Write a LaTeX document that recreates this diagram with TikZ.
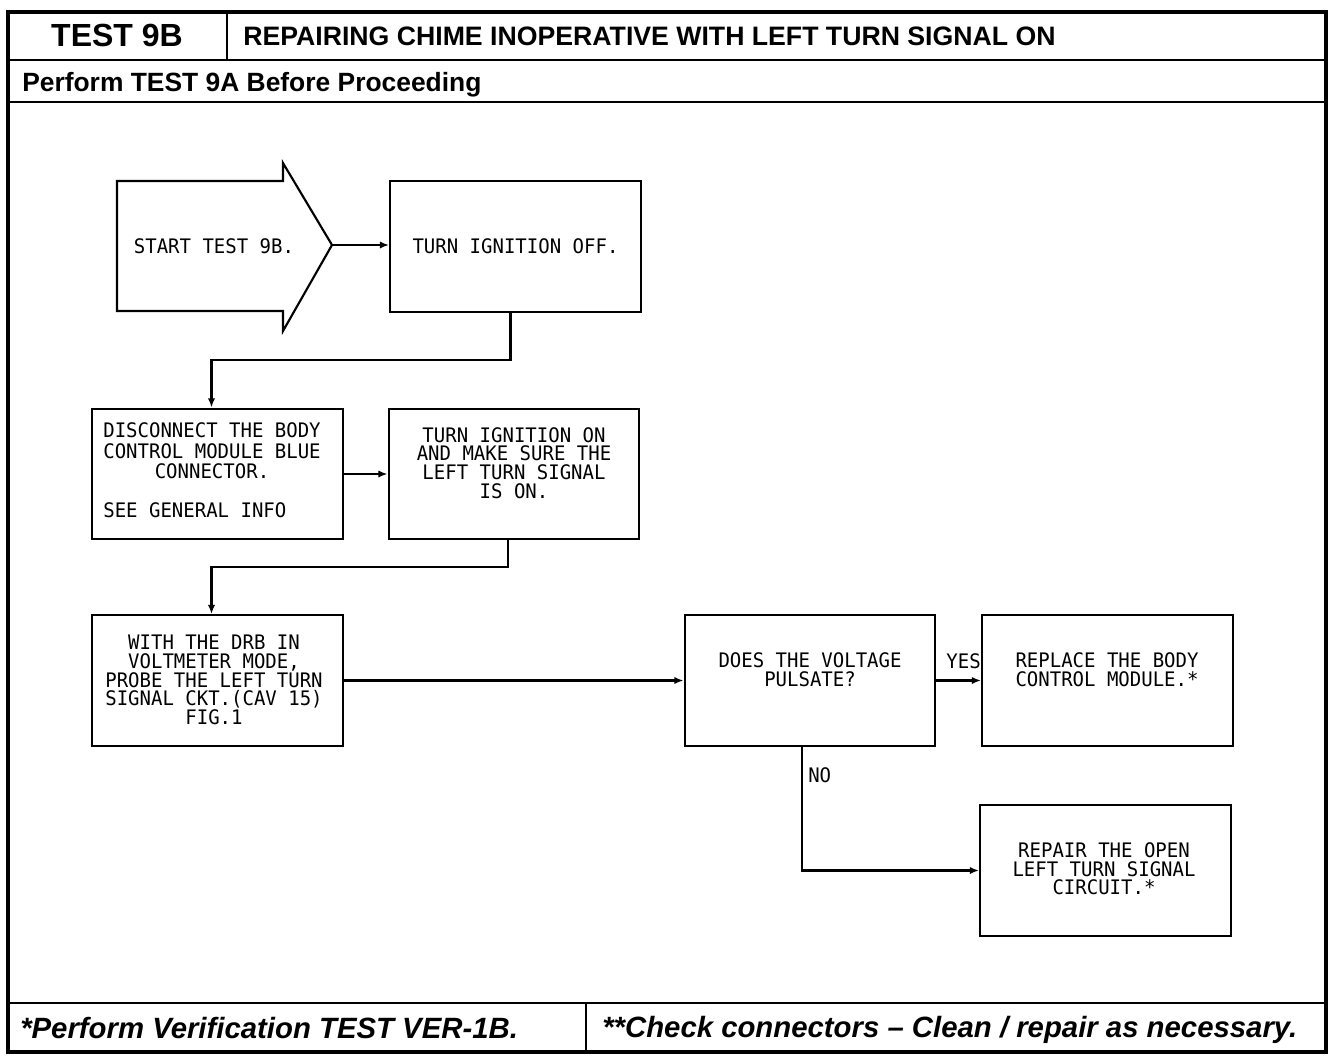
\documentclass[tikz,border=0pt]{standalone}
\usepackage{fontspec}
\setmainfont{Liberation Sans}
\newfontfamily\plotfont[FakeStretch=0.95]{DejaVu Sans Mono}
\usetikzlibrary{arrows.meta,calc}
\tikzset{
  frame/.style={line width=2pt},
  box/.style={draw, line width=1.6pt, minimum width=188pt, minimum height=98pt, inner sep=0pt},
  btext/.style={font=\plotfont\fontsize{15}{14}\selectfont, align=center, inner sep=0pt},
  conn/.style={line width=1.6pt, -{Latex[length=7pt,width=5.5pt]}},
  lbl/.style={font=\plotfont\fontsize{15}{14}\selectfont, inner sep=0pt},
}
\begin{document}
\begin{tikzpicture}[x=0.75pt,y=-0.75pt]
\useasboundingbox (0,0) rectangle (1344,1060);
% frame
\draw[frame, line width=2.4pt] (8,12) rectangle (1326,1052);
\draw[frame] (8,60) -- (1326,60);
\draw[frame] (227,12) -- (227,60);
\draw[frame] (8,102) -- (1326,102);
\draw[frame] (8,1003) -- (1326,1003);
\draw[frame] (586,1003) -- (586,1052);
\node[font=\bfseries\fontsize{24}{26}\selectfont, inner sep=0pt, anchor=base] (hdrA) at (117,46) {TEST 9B};
\node[font=\bfseries\fontsize{20}{22}\selectfont, inner sep=0pt, anchor=base west] (hdrB) at (243,45) {REPAIRING CHIME INOPERATIVE WITH LEFT TURN SIGNAL ON};
\node[font=\bfseries\fontsize{19.8}{22}\selectfont, inner sep=0pt, anchor=base west] (hdrC) at (22,91) {Perform TEST 9A Before Proceeding};
\node[font=\bfseries\itshape\fontsize{22}{24}\selectfont, inner sep=0pt, anchor=base west] (ftA) at (20,1038) {*Perform Verification TEST VER-1B.};
\node[font=\bfseries\itshape\fontsize{22}{24}\selectfont, inner sep=0pt, anchor=base west] (ftB) at (602,1037) {**Check connectors -- Clean / repair as necessary.};
% start arrow
\draw[line width=1.6pt] (117,181) -- (283,181) -- (283,163) -- (332,245) -- (283,331) -- (283,311) -- (117,311) -- cycle;
\coordinate (starttip) at (332,245);
\node[btext] (startt) at (214,246) {START TEST 9B.};
% boxes
\node[box] (b1) at (515.5,246.5) {};
\node[btext] (b1t) at (515.5,246) {TURN IGNITION OFF.};
\node[box] (b2) at (217.5,474) {};
\node[btext] (b2t) at (212,473) {\begin{tabular}{@{}l@{}}DISCONNECT THE BODY\\CONTROL MODULE BLUE\\\multicolumn{1}{@{}c@{}}{CONNECTOR.}\\[14pt]SEE GENERAL INFO\end{tabular}};
\node[box] (b3) at (514,474) {};
\node[btext] (b3t) at (514,463) {TURN IGNITION ON\\AND MAKE SURE THE\\LEFT TURN SIGNAL\\IS ON.};
\node[box] (b4) at (217.5,680.5) {};
\node[btext] (b4t) at (214,680) {WITH THE DRB IN\\VOLTMETER MODE,\\PROBE THE LEFT TURN\\SIGNAL CKT.(CAV 15)\\FIG.1};
\node[box] (b5) at (810,680.5) {};
\node[btext] (b5t) at (810,670) {DOES THE VOLTAGE\\PULSATE?};
\node[box] (b6) at (1107.5,680.5) {};
\node[btext] (b6t) at (1107,670) {REPLACE THE BODY\\CONTROL MODULE.*};
\node[box] (b7) at (1105.5,870.5) {};
\node[btext] (b7t) at (1104,869) {REPAIR THE OPEN\\LEFT TURN SIGNAL\\CIRCUIT.*};
% connectors
\draw[conn] (starttip) -- (b1.west |- starttip);
\draw[conn] ($(b1.south)+(-5,0)$) -- ++(0,47) -| ($(b2.north)+(-6,0)$);
\draw[conn] (b2.east) -- (b3.west);
\draw[conn] ($(b3.south)+(-6,0)$) -- ++(0,27) -| ($(b4.north)+(-6,0)$);
\draw[conn] (b4.east) -- (b5.west);
\draw[conn] (b5.east) -- (b6.west);
\node[lbl, anchor=east] (yes) at (981,661) {YES};
\draw[conn] ($(b5.south)+(-8,0)$) |- (b7.west);
\node[lbl, anchor=west] (no) at (808,775) {NO};
\end{tikzpicture}
\end{document}
